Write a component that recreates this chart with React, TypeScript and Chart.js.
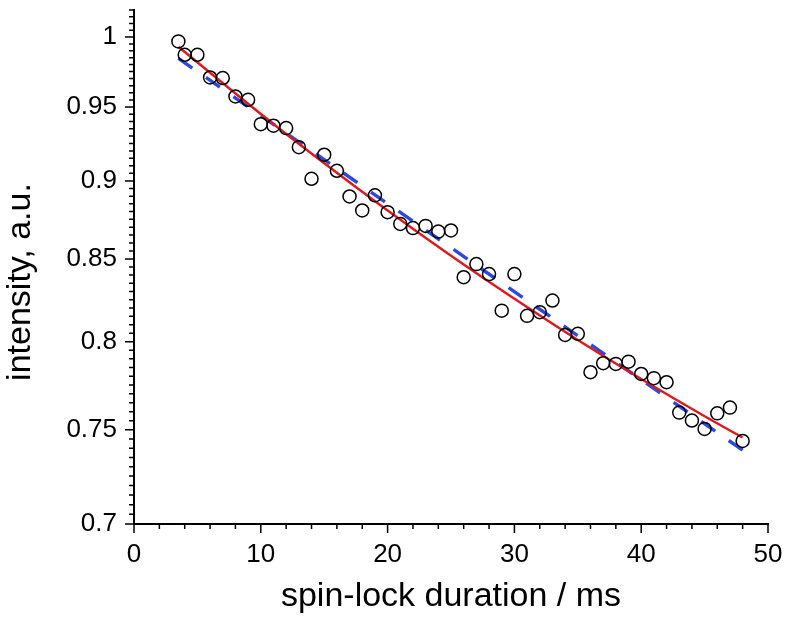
import React, { useEffect, useRef } from 'react';
import { Chart, registerables } from 'chart.js';

Chart.register(...registerables);

// ---- data ----
const durations = [3.5, 4, 5, 6, 7, 8, 9, 10, 11, 12, 13, 14, 15, 16, 17, 18, 19, 20, 21, 22, 23, 24, 25, 26, 27, 28, 29, 30, 31, 32, 33, 34, 35, 36, 37, 38, 39, 40, 41, 42, 43, 44, 45, 46, 47, 48];
const intensity = [0.9968, 0.9871, 0.9871, 0.9708, 0.9704, 0.9574, 0.9551, 0.9382, 0.9371, 0.9355, 0.9225, 0.9014, 0.9174, 0.9067, 0.8898, 0.8807, 0.8905, 0.8796, 0.8721, 0.8694, 0.8708, 0.8672, 0.8679, 0.8387, 0.8468, 0.8406, 0.8184, 0.8406, 0.8153, 0.8175, 0.8245, 0.804, 0.8046, 0.7823, 0.7875, 0.7871, 0.7884, 0.7813, 0.7789, 0.7766, 0.7595, 0.7551, 0.7505, 0.7591, 0.7623, 0.7439];

const fitX = [3.5, 10, 15, 20, 25, 30, 35, 40, 45, 48];
const fitRed = [0.9929, 0.9452, 0.9117, 0.8807, 0.852, 0.8255, 0.801, 0.7784, 0.7575, 0.7458];

const monoX = [3.5, 48];
const monoBlue = [0.9845, 0.7389];

const xMajorTicks = [0, 10, 20, 30, 40, 50];
const xMinorTicks = [2, 4, 6, 8, 12, 14, 16, 18, 22, 24, 26, 28, 32, 34, 36, 38, 42, 44, 46, 48];
const yMajorTicks = [0.7, 0.75, 0.8, 0.85, 0.9, 0.95, 1];
const yMajorLabels = ['0.7', '0.75', '0.8', '0.85', '0.9', '0.95', '1'];
const yMin = 0.7;
const yMax = 1.02;
const yMinorStep = 0.005;

const xTitle = 'spin-lock duration / ms';
const yTitle = 'intensity, a.u.';

const FONT = "'Liberation Sans', Arial, Helvetica, sans-serif";

function buildYTicks(): number[] {
  const out: number[] = [];
  const n = Math.round((yMax - yMin) / yMinorStep);
  for (let i = 0; i <= n; i++) out.push(+(yMin + i * yMinorStep).toFixed(4));
  return out;
}
const yAllTicks = buildYTicks();
const xAllTicks = [...xMajorTicks, ...xMinorTicks].sort((a, b) => a - b);

function yLabelFor(v: number): string | null {
  const idx = yMajorTicks.findIndex((m) => Math.abs(m - v) < 1e-6);
  return idx >= 0 ? yMajorLabels[idx] : null;
}

function zeroPadding(scale: any) {
  scale.paddingTop = 0;
  scale.paddingBottom = 0;
  scale.paddingLeft = 0;
  scale.paddingRight = 0;
}

const axisDecor = {
  id: 'axisDecor',
  afterDraw(chart: any) {
    const { ctx } = chart;
    const x = chart.scales.x;
    const y = chart.scales.y;
    const left = chart.chartArea.left;
    const bottom = chart.chartArea.bottom;
    ctx.save();
    ctx.strokeStyle = '#000';
    ctx.lineWidth = 1.5;
    ctx.beginPath();
    for (const v of yAllTicks) {
      const py = y.getPixelForValue(v);
      const len = yLabelFor(v) !== null ? 9 : 5;
      ctx.moveTo(left - len, py);
      ctx.lineTo(left, py);
    }
    for (const v of xAllTicks) {
      const px = x.getPixelForValue(v);
      const len = xMajorTicks.includes(v) ? 9 : 5;
      ctx.moveTo(px, bottom);
      ctx.lineTo(px, bottom + len);
    }
    ctx.stroke();

    // y-axis title
    ctx.fillStyle = '#000';
    ctx.font = `34px ${FONT}`;
    ctx.textAlign = 'center';
    ctx.textBaseline = 'alphabetic';
    ctx.translate(30, 282);
    ctx.rotate(-Math.PI / 2);
    ctx.fillText(yTitle, 0, 0);
    ctx.restore();
  },
};

export default function App() {
  const ref = useRef<HTMLCanvasElement | null>(null);

  useEffect(() => {
    if (!ref.current) return;
    const chart = new Chart(ref.current, {
      type: 'scatter',
      data: {
        datasets: [
          {
            label: 'data',
            data: durations.map((d, i) => ({ x: d, y: intensity[i] })),
            showLine: false,
            pointStyle: 'circle',
            pointRadius: 6.5,
            pointBorderWidth: 1.5,
            pointBorderColor: '#000',
            pointBackgroundColor: 'rgba(0,0,0,0)',
            order: 0,
          } as any,
          {
            label: 'fit',
            type: 'line',
            data: fitX.map((d, i) => ({ x: d, y: fitRed[i] })),
            borderColor: '#e3161c',
            borderWidth: 2.4,
            pointRadius: 0,
            cubicInterpolationMode: 'monotone',
            fill: false,
            order: 1,
          } as any,
          {
            label: 'mono',
            type: 'line',
            data: monoX.map((d, i) => ({ x: d, y: monoBlue[i] })),
            borderColor: '#2b48e0',
            borderWidth: 3.4,
            borderDash: [17, 16.5],
            pointRadius: 0,
            fill: false,
            order: 2,
          } as any,
        ],
      },
      options: {
        animation: false,
        responsive: true,
        maintainAspectRatio: false,
        layout: { padding: { top: 10, right: 18, left: 0, bottom: 0 } },
        plugins: {
          legend: { display: false },
          tooltip: { enabled: false },
        },
        scales: {
          x: {
            type: 'linear',
            min: 0,
            max: 50,
            afterBuildTicks: (scale: any) => {
              scale.ticks = xAllTicks.map((v) => ({ value: v }));
            },
            afterFit: (scale: any) => {
              scale.height = 93;
              zeroPadding(scale);
            },
            grid: {
              display: true,
              drawOnChartArea: false,
              drawTicks: true,
              tickLength: 9,
              tickColor: 'rgba(0,0,0,0)',
            },
            border: { display: true, color: '#000', width: 2 },
            ticks: {
              autoSkip: false,
              maxRotation: 0,
              padding: 6,
              color: '#000',
              font: { family: FONT, size: 26 },
              callback: (v: any) => (xMajorTicks.includes(Number(v)) ? String(v) : null),
            },
            title: {
              display: true,
              text: xTitle,
              color: '#000',
              font: { family: FONT, size: 34 },
              padding: { top: 0, bottom: 0 },
            },
          },
          y: {
            type: 'logarithmic',
            min: yMin,
            max: yMax,
            afterBuildTicks: (scale: any) => {
              scale.ticks = yAllTicks.map((v) => ({ value: v }));
            },
            afterFit: (scale: any) => {
              scale.width = 134;
              zeroPadding(scale);
            },
            grid: {
              display: true,
              drawOnChartArea: false,
              drawTicks: true,
              tickLength: 9,
              tickColor: 'rgba(0,0,0,0)',
            },
            border: { display: true, color: '#000', width: 2 },
            ticks: {
              autoSkip: false,
              padding: 8,
              color: '#000',
              font: { family: FONT, size: 26 },
              callback: (v: any) => yLabelFor(Number(v)),
            },
          },
        },
      },
      plugins: [axisDecor],
    } as any);
    return () => chart.destroy();
  }, []);

  return (
    <div style={{ position: 'absolute', left: 0, top: 0, width: 786, height: 617, background: '#fff' }}>
      <canvas ref={ref} />
    </div>
  );
}
